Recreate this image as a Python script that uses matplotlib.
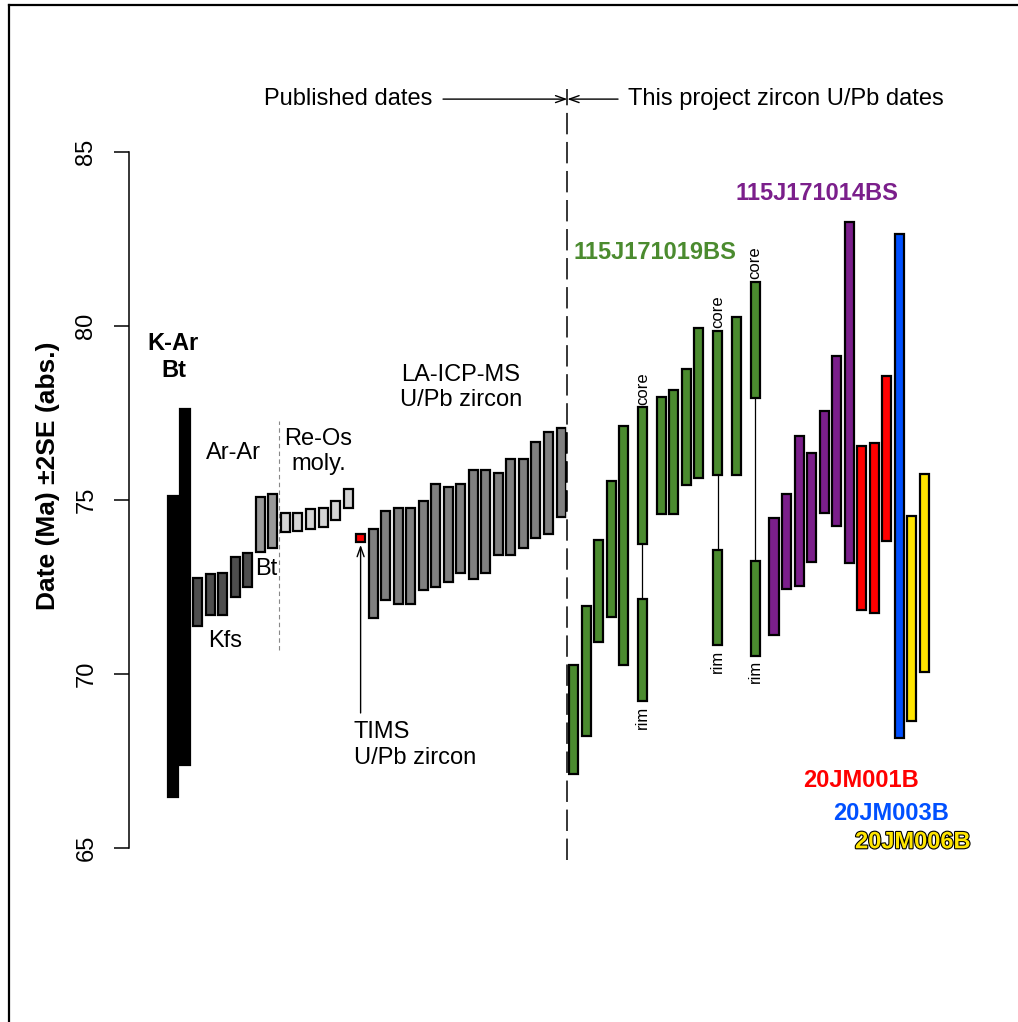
import numpy as np
import matplotlib
matplotlib.use("Agg")
import matplotlib.pyplot as plt
from matplotlib.lines import Line2D
import matplotlib.patheffects as pe

plt.rcParams['font.family'] = ['Liberation Sans', 'DejaVu Sans']

# --- published dates (Ma), low / high ends of the 2SE range ---
karLo = [66.47, 67.39]
karHi = [75.11, 77.61]
kfsLo = [71.39, 71.69, 71.70, 72.20, 72.50]
kfsHi = [72.75, 72.87, 72.90, 73.37, 73.48]
btLo = [73.51, 73.61]
btHi = [75.08, 75.17]
reoLo = [74.09, 74.11, 74.18, 74.22, 74.43, 74.78]
reoHi = [74.62, 74.64, 74.73, 74.76, 74.96, 75.32]
timLo = [73.78]
timHi = [74.02]
laLo = [71.61, 72.12, 72.02, 72.02, 72.41, 72.51, 72.63, 72.91,
        72.72, 72.91, 73.42, 73.42, 73.62, 73.92, 74.02, 74.52]
laHi = [74.17, 74.67, 74.78, 74.77, 74.96, 75.46, 75.37, 75.46,
        75.86, 75.86, 75.78, 76.17, 76.17, 76.68, 76.96, 77.08]

# --- this project, zircon U/Pb ---
greLo = [67.13, 68.23, 70.93, 71.64, 70.26, 73.73, 74.61, 74.61,
         75.42, 75.63, 75.73, 75.73, 77.92]
greHi = [70.26, 71.95, 73.85, 75.54, 77.12, 77.66, 77.96, 78.16,
         78.76, 79.94, 79.85, 80.25, 81.26]
greCore = [5, 10, 12]              # spots with a core/rim pair
rimLo = [69.22, 70.83, 70.53]
rimHi = [72.16, 73.56, 73.26]
purLo = [71.12, 72.43, 72.54, 73.22, 74.62, 74.24, 73.19]
purHi = [74.47, 75.17, 76.85, 76.36, 77.55, 79.13, 83.00]
redLo = [71.84, 71.75, 73.83]
redHi = [76.54, 76.63, 78.55]
bluLo = [68.16]
bluHi = [82.65]
yelLo = [68.66, 70.06]
yelHi = [74.54, 75.74]

yTicks = [65, 70, 75, 80, 85]

# colours
colGre = '#4b8b2f'
colPur = '#7b1f8b'
colRed = '#ff0000'
colBlu = '#0050ff'
colYel = '#ffe500'

W, H = 1018, 1022
fig = plt.figure(figsize=(W / 100, H / 100), dpi=100)
ax = fig.add_axes([0, 0, 1, 1])
ax.set_xlim(-13.786, 67.478)
ax.set_ylim(60.0, 89.368)


def barras(xs, lo, hi, col, wid=0.72):
    lo = np.asarray(lo)
    hi = np.asarray(hi)
    ax.bar(xs, hi - lo, bottom=lo, width=wid, color=col,
           edgecolor='black', linewidth=1.6, zorder=3)


# published: consecutive slots
grpPub = [(karLo, karHi, '#000000'), (kfsLo, kfsHi, '#4d4d4d'),
          (btLo, btHi, '#999999'), (reoLo, reoHi, '#d3d3d3'),
          (timLo, timHi, colRed), (laLo, laHi, '#808080')]
pos = 0
xPub = []
for lo, hi, col in grpPub:
    xs = np.arange(pos, pos + len(lo))
    xPub.append(xs)
    barras(xs, lo, hi, col, wid=0.78 if col == '#000000' else 0.72)
    pos += len(lo)

# project: green with padded core/rim columns
xGre = []
x = pos
for i in range(len(greLo)):
    if i in greCore:
        x += 0.5
        xGre.append(x)
        x += 1.5
    else:
        xGre.append(x)
        x += 1
xGre = np.array(xGre)
barras(xGre, greLo, greHi, colGre)
xRim = xGre[greCore]
barras(xRim, rimLo, rimHi, colGre)
for xr, cLo, rHi, rLo, cHi in zip(xRim, np.array(greLo)[greCore], rimHi, rimLo,
                                  np.array(greHi)[greCore]):
    ax.plot([xr, xr], [rHi, cLo], color='black', lw=0.9, zorder=2)
    ax.annotate('core', xy=(xr, cHi), xytext=(0, 2), textcoords='offset points',
                rotation=90, ha='center', va='bottom', fontsize=12)
    ax.annotate('rim', xy=(xr, rLo), xytext=(0, -3), textcoords='offset points',
                rotation=90, ha='center', va='top', fontsize=12)

for lo, hi, col in [(purLo, purHi, colPur), (redLo, redHi, colRed),
                    (bluLo, bluHi, colBlu), (yelLo, yelHi, colYel)]:
    xs = np.arange(x, x + len(lo))
    barras(xs, lo, hi, col)
    x += len(lo)

# divider between published and project dates
xDiv = (xPub[-1][-1] + xGre[0]) / 2
ax.plot([xDiv, xDiv], [64.66, 86.8], color='black', lw=1.1,
        linestyle=(0, (14, 5)), gapcolor='white', zorder=4)
ax.plot([8.5, 8.5], [70.69, 77.27], color='#888888', lw=0.8,
        linestyle=(0, (4, 3)), zorder=2)

# header
yHead = 86.52
ax.text(20.7, yHead, 'Published dates', ha='right', va='center', fontsize=17)
ax.text(36.35, yHead, 'This project zircon U/Pb dates', ha='left', va='center',
        fontsize=17)
flecha = dict(arrowstyle='->,head_length=0.7,head_width=0.25', lw=1.0,
              color='black', shrinkA=0, shrinkB=0, mutation_scale=10)
ax.annotate('', xy=(xDiv, yHead), xytext=(21.58, yHead), arrowprops=flecha)
ax.annotate('', xy=(xDiv, yHead), xytext=(35.55, yHead), arrowprops=flecha)

# TIMS arrow
xTim = xPub[4][0]
ax.annotate('', xy=(xTim, 73.71), xytext=(xTim, 68.88), arrowprops=flecha)

# method labels
ax.text(0.06, 79.11, 'K-Ar\nBt', ha='center', va='center', fontsize=17,
        fontweight='bold', linespacing=1.2)
ax.text(4.81, 76.35, 'Ar-Ar', ha='center', va='center', fontsize=17)
ax.text(11.64, 76.4, 'Re-Os\nmoly.', ha='center', va='center', fontsize=17,
        linespacing=1.15)
ax.text(7.45, 73.02, 'Bt', ha='center', va='center', fontsize=17)
ax.text(4.2, 70.95, 'Kfs', ha='center', va='center', fontsize=17)
ax.text(23.0, 78.23, 'LA-ICP-MS\nU/Pb zircon', ha='center', va='center',
        fontsize=17, linespacing=1.2)
ax.text(14.47, 67.96, 'TIMS\nU/Pb zircon', ha='left', va='center',
        fontsize=17, linespacing=1.2)

# sample labels
ax.text(38.5, 82.10, '115J171019BS', ha='center', va='center', fontsize=17,
        fontweight='bold', color=colGre)
ax.text(51.43, 83.82, '115J171014BS', ha='center', va='center', fontsize=17,
        fontweight='bold', color=colPur)
ax.text(54.94, 66.93, '20JM001B', ha='center', va='center', fontsize=17,
        fontweight='bold', color=colRed)
ax.text(57.33, 65.98, '20JM003B', ha='center', va='center', fontsize=17,
        fontweight='bold', color=colBlu)
ax.text(59.09, 65.18, '20JM006B', ha='center', va='center', fontsize=17,
        fontweight='bold', color=colYel,
        path_effects=[pe.withStroke(linewidth=1.6, foreground='black')])

# y axis, R style
for s in ['top', 'right', 'bottom']:
    ax.spines[s].set_visible(False)
ax.spines['left'].set_position(('data', -3.49))
ax.spines['left'].set_bounds(65, 85)
ax.spines['left'].set_linewidth(1.1)
ax.set_xticks([])
ax.set_yticks(yTicks)
ax.set_yticklabels([str(t) for t in yTicks], rotation=90, va='center')
ax.tick_params(axis='y', direction='out', length=10.8, width=1.1,
               pad=12, labelsize=17)
ax.text(-9.95, 75.71, 'Date (Ma) \u00b12SE (abs.)', rotation=90, ha='center',
        va='center', fontsize=19, fontweight='bold')

# outer frame
fig.add_artist(Line2D([9 / W, 9 / W], [0, 1 - 5 / H], color='black', lw=1.6,
                      transform=fig.transFigure))
fig.add_artist(Line2D([9 / W, 1], [1 - 5 / H, 1 - 5 / H], color='black',
                      lw=1.6, transform=fig.transFigure))

fig.savefig('out.png', dpi=100)
